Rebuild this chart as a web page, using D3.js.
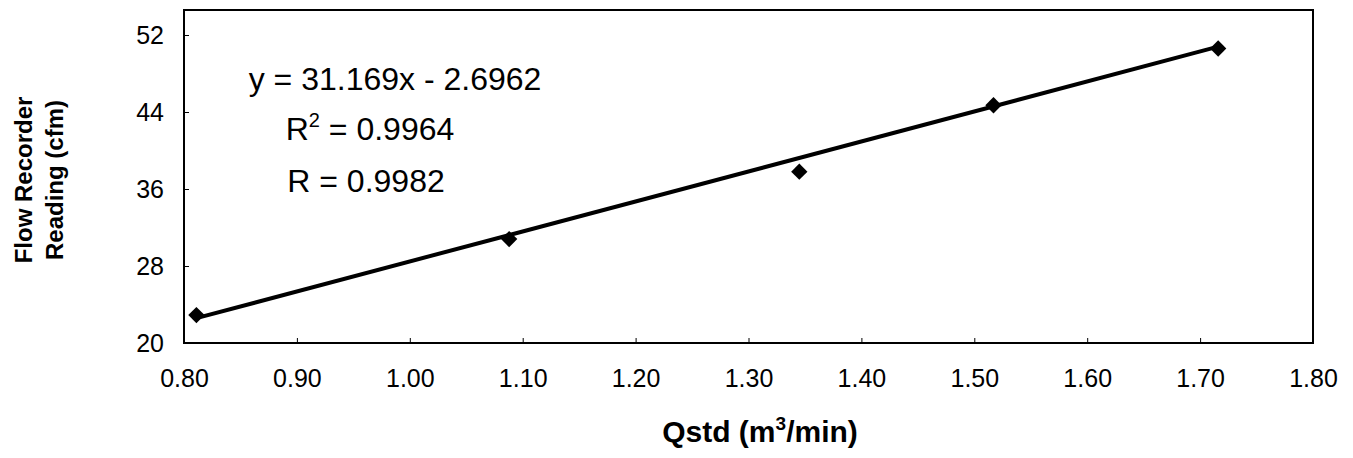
<!DOCTYPE html>
<html><head><meta charset="utf-8">
<script src="https://cdn.jsdelivr.net/npm/d3@7"></script>
<style>body{margin:0;background:#fff}text{font-family:"Liberation Sans",Arial,sans-serif}</style>
</head><body>
<svg id="chart" width="1353" height="458"></svg>
<script>
var qstd = [0.811, 1.088, 1.345, 1.517, 1.716];
var flow = [22.9, 30.8, 37.8, 44.7, 50.6];
var xTicks = [0.8, 0.9, 1.0, 1.1, 1.2, 1.3, 1.4, 1.5, 1.6, 1.7, 1.8];
var yTicks = [20, 28, 36, 44, 52];
var slope = 31.169, intercept = -2.6962;

var svg = d3.select("#chart");
var x = d3.scaleLinear().domain([0.8, 1.8]).range([184, 1313]);
var y = d3.scaleLinear().domain([20, 52]).range([343, 35]);
var plotTop = 10;

svg.append("rect").attr("x", 184).attr("y", plotTop).attr("width", 1313 - 184).attr("height", 343 - plotTop)
  .attr("fill", "none").attr("stroke", "#000").attr("stroke-width", 2);

svg.append("g").attr("transform", "translate(0,343)")
  .call(d3.axisBottom(x).tickValues(xTicks).tickFormat(d3.format(".2f")).tickSizeInner(-5).tickSizeOuter(0).tickPadding(26))
  .call(g => g.select(".domain").remove())
  .selectAll("text").attr("font-size", 25).attr("fill", "#000");

svg.append("g").attr("transform", "translate(184,0)")
  .call(d3.axisLeft(y).tickValues(yTicks).tickSizeInner(-5).tickSizeOuter(0).tickPadding(20))
  .call(g => g.select(".domain").remove())
  .selectAll("text").attr("font-size", 25).attr("fill", "#000");

// trendline
svg.append("line")
  .attr("x1", x(qstd[0])).attr("y1", y(slope * qstd[0] + intercept))
  .attr("x2", x(qstd[4])).attr("y2", y(slope * qstd[4] + intercept))
  .attr("stroke", "#000").attr("stroke-width", 4);

svg.selectAll(".pt").data(qstd).enter().append("path")
  .attr("d", d3.symbol(d3.symbolDiamond2, 170))
  .attr("transform", (d, i) => `translate(${x(d)},${y(flow[i])})`)
  .attr("fill", "#000");

var eq = svg.append("g").attr("font-size", 32);
eq.append("text").attr("x", 395).attr("y", 90).attr("text-anchor", "middle").text("y = 31.169x - 2.6962");
var r2 = eq.append("text").attr("x", 370).attr("y", 140).attr("text-anchor", "middle");
r2.append("tspan").text("R");
r2.append("tspan").attr("dy", -13).attr("font-size", 20).text("2");
r2.append("tspan").attr("dy", 13).text(" = 0.9964");
eq.append("text").attr("x", 366).attr("y", 192).attr("text-anchor", "middle").text("R = 0.9982");

var xt = svg.append("text").attr("x", 760).attr("y", 442).attr("text-anchor", "middle")
  .attr("font-size", 30).attr("font-weight", "bold");
xt.append("tspan").text("Qstd (m");
xt.append("tspan").attr("dy", -12).attr("font-size", 19).text("3");
xt.append("tspan").attr("dy", 12).text("/min)");

var yt = svg.append("text").attr("transform", "translate(0,180) rotate(-90)")
  .attr("text-anchor", "middle").attr("font-size", 24).attr("font-weight", "bold");
yt.append("tspan").attr("x", 0).attr("y", 32).text("Flow Recorder");
yt.append("tspan").attr("x", 0).attr("y", 63).text("Reading (cfm)");
</script>
</body></html>
